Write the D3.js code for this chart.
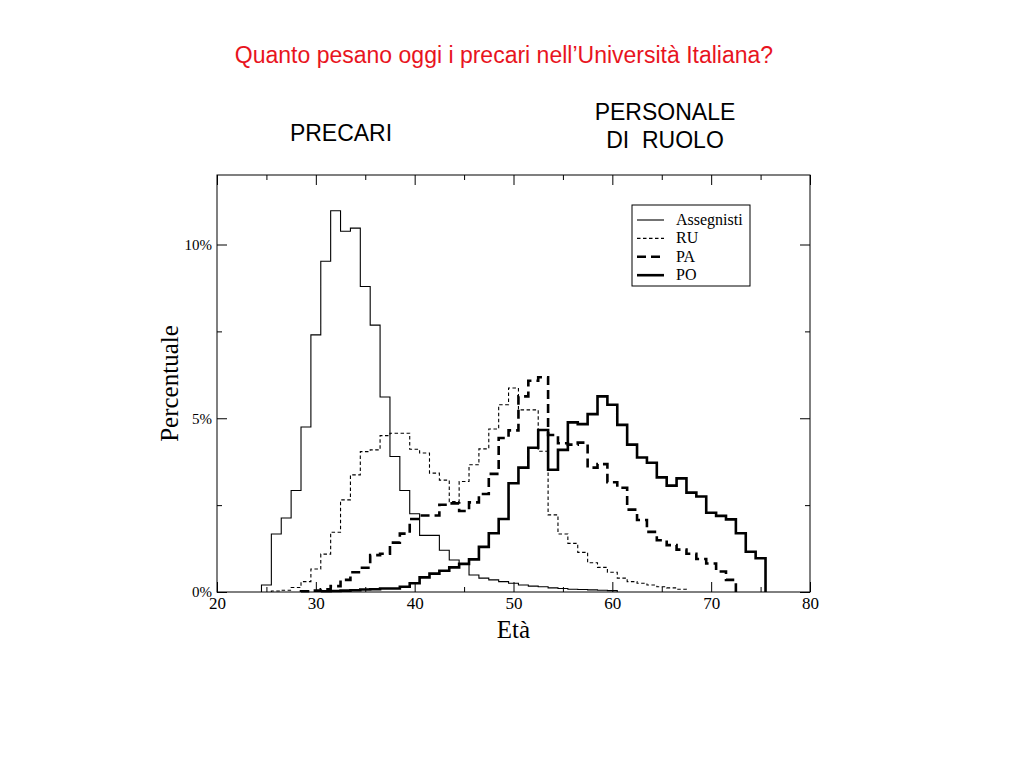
<!DOCTYPE html>
<html>
<head>
<meta charset="utf-8">
<script src="https://cdn.jsdelivr.net/npm/d3@7/dist/d3.min.js"></script>
<style>
  html, body { margin: 0; padding: 0; background: #fff; }
  svg { display: block; }
</style>
</head>
<body>
<svg id="chart" width="1023" height="767"></svg>
<script>
// ---- data (percent of each category per year of age, 1-year bins centred on the age) ----
const seriesNames = ["Assegnisti", "RU", "PA", "PO"];
const xTickLabels = [20, 30, 40, 50, 60, 70, 80];
const yTickLabels = [0, 5, 10];

const assegnistiFrom = 25;
const assegnisti = [0.20, 1.67, 2.13, 2.92, 4.75, 7.40, 9.52, 10.97, 10.38, 10.47, 8.79, 7.68, 5.61, 3.90,
  2.92, 2.25, 1.63, 1.63, 1.20, 0.92, 0.80, 0.49, 0.40, 0.35, 0.30, 0.25, 0.20, 0.17, 0.15, 0.12,
  0.10, 0.08, 0.07, 0.06, 0.05, 0.04];

const ruFrom = 26;
const ru = [0.03, 0.05, 0.13, 0.30, 0.66, 1.09, 1.72, 2.65, 3.37, 4.04, 4.09, 4.50, 4.57, 4.57, 4.11,
  4.00, 3.42, 3.22, 2.60, 3.18, 3.66, 4.12, 4.69, 5.39, 5.87, 5.24, 5.24, 4.05, 2.22, 1.67, 1.40,
  1.14, 0.84, 0.71, 0.57, 0.40, 0.30, 0.25, 0.20, 0.15, 0.12, 0.08];

const paFrom = 29;
const pa = [0.02, 0.04, 0.08, 0.17, 0.35, 0.57, 0.70, 1.06, 1.10, 1.42, 1.68, 2.10, 2.20, 2.20, 2.51,
  2.55, 2.33, 2.58, 2.82, 3.40, 4.43, 4.65, 5.63, 6.08, 6.18, 4.52, 4.28, 4.24, 4.30, 3.58, 3.68,
  3.16, 3.00, 2.37, 2.07, 1.73, 1.49, 1.35, 1.22, 1.10, 0.95, 0.82, 0.59, 0.35];

const poFrom = 31;
const po = [0.02, 0.03, 0.04, 0.05, 0.07, 0.08, 0.10, 0.10, 0.15, 0.25, 0.42, 0.53, 0.61, 0.71, 0.81,
  0.94, 1.30, 1.69, 2.10, 3.13, 3.58, 4.15, 4.66, 3.52, 4.09, 4.88, 4.83, 5.12, 5.63, 5.39, 4.81,
  4.24, 3.87, 3.72, 3.30, 3.06, 3.27, 2.86, 2.75, 2.28, 2.19, 2.09, 1.69, 1.16, 0.97];

// ---- layout ----
const svg = d3.select("#chart");
const L = 217, R = 810, T = 175, B = 592;
const x = d3.scaleLinear().domain([20, 80]).range([L, R]);
const y = d3.scaleLinear().domain([0, 12]).range([B, T]);

// header texts
svg.append("text").attr("x", 504).attr("y", 63).attr("text-anchor", "middle")
  .attr("font-family", "Liberation Sans, Arial, sans-serif").attr("font-size", 23)
  .attr("fill", "#e8141e").text("Quanto pesano oggi i precari nell\u2019Universit\u00e0 Italiana?");
svg.append("text").attr("x", 341).attr("y", 141).attr("text-anchor", "middle")
  .attr("font-family", "Liberation Sans, Arial, sans-serif").attr("font-size", 23)
  .attr("fill", "#000").text("PRECARI");
svg.append("text").attr("x", 665).attr("y", 120).attr("text-anchor", "middle")
  .attr("font-family", "Liberation Sans, Arial, sans-serif").attr("font-size", 23)
  .attr("fill", "#000").text("PERSONALE");
svg.append("text").attr("x", 665).attr("y", 148).attr("text-anchor", "middle")
  .attr("font-family", "Liberation Sans, Arial, sans-serif").attr("font-size", 23)
  .attr("fill", "#000").attr("xml:space", "preserve").style("white-space", "pre").text("DI  RUOLO");

// frame
svg.append("rect").attr("x", L).attr("y", T).attr("width", R - L).attr("height", B - T)
  .attr("fill", "none").attr("stroke", "#000").attr("stroke-width", 1);

const serif = "Liberation Serif, Times New Roman, serif";
const minorX = [25, 35, 45, 55, 65, 75];
const minorY = [2.5, 7.5];

function styleAxis(g) {
  g.select(".domain").remove();
  g.selectAll(".tick line").attr("stroke", "#000").attr("stroke-width", 1);
  g.selectAll(".tick text").attr("font-family", serif).attr("fill", "#000");
}

// bottom axis
svg.append("g").attr("transform", `translate(0,${B})`)
  .call(d3.axisBottom(x).tickValues(xTickLabels).tickSize(-10).tickPadding(5).tickFormat(d3.format("d")))
  .call(styleAxis)
  .call(g => g.selectAll(".tick text").attr("font-size", 17));
svg.append("g").attr("transform", `translate(0,${B})`)
  .call(d3.axisBottom(x).tickValues(minorX).tickSize(-5).tickFormat(""))
  .call(styleAxis);
// top axis
svg.append("g").attr("transform", `translate(0,${T})`)
  .call(d3.axisTop(x).tickValues(xTickLabels).tickSize(-10).tickFormat(""))
  .call(styleAxis);
svg.append("g").attr("transform", `translate(0,${T})`)
  .call(d3.axisTop(x).tickValues(minorX).tickSize(-5).tickFormat(""))
  .call(styleAxis);
// left axis
svg.append("g").attr("transform", `translate(${L},0)`)
  .call(d3.axisLeft(y).tickValues(yTickLabels).tickSize(-10).tickPadding(5).tickFormat(d => d + "%"))
  .call(styleAxis)
  .call(g => g.selectAll(".tick text").attr("font-size", 15));
svg.append("g").attr("transform", `translate(${L},0)`)
  .call(d3.axisLeft(y).tickValues(minorY).tickSize(-5).tickFormat(""))
  .call(styleAxis);
// right axis
svg.append("g").attr("transform", `translate(${R},0)`)
  .call(d3.axisRight(y).tickValues(yTickLabels).tickSize(-10).tickFormat(""))
  .call(styleAxis);
svg.append("g").attr("transform", `translate(${R},0)`)
  .call(d3.axisRight(y).tickValues(minorY).tickSize(-5).tickFormat(""))
  .call(styleAxis);

// axis titles
svg.append("text").attr("x", (L + R) / 2).attr("y", 638).attr("text-anchor", "middle")
  .attr("font-family", serif).attr("font-size", 25).attr("fill", "#000").text("Et\u00e0");
svg.append("text").attr("transform", `translate(178,${(T + B) / 2}) rotate(-90)`)
  .attr("text-anchor", "middle").attr("font-family", serif).attr("font-size", 25)
  .attr("fill", "#000").text("Percentuale");

// ---- step histograms ----
const styles = {
  Assegnisti: { width: 1.1, dash: null },
  RU: { width: 1.1, dash: "3.5,2.5" },
  PA: { width: 2.6, dash: "9,5" },
  PO: { width: 2.6, dash: null }
};
const seriesData = [
  { name: "Assegnisti", from: assegnistiFrom, values: assegnisti },
  { name: "RU", from: ruFrom, values: ru },
  { name: "PA", from: paFrom, values: pa },
  { name: "PO", from: poFrom, values: po }
];

const stepLine = d3.line().x(d => x(d[0])).y(d => y(d[1])).curve(d3.curveStepAfter);

seriesData.forEach(s => {
  const pts = [[s.from - 0.5, 0]];
  s.values.forEach((v, i) => pts.push([s.from + i - 0.5, v]));
  const last = s.from + s.values.length - 1;
  pts.push([last + 0.5, 0]);
  const st = styles[s.name];
  svg.append("path").attr("d", stepLine(pts))
    .attr("fill", "none").attr("stroke", "#000").attr("stroke-width", st.width)
    .attr("stroke-linejoin", "miter").attr("stroke-dasharray", st.dash);
});

// ---- legend ----
const lg = svg.append("g");
lg.append("rect").attr("x", 632).attr("y", 205).attr("width", 118).attr("height", 81)
  .attr("fill", "#fff").attr("stroke", "#000").attr("stroke-width", 1);
seriesNames.forEach((name, i) => {
  const yy = 220 + i * 18.4;
  const st = styles[name];
  lg.append("line").attr("x1", 637).attr("x2", 664).attr("y1", yy).attr("y2", yy)
    .attr("stroke", "#000").attr("stroke-width", st.width).attr("stroke-dasharray", st.dash);
  lg.append("text").attr("x", 676).attr("y", yy + 5).attr("font-family", serif)
    .attr("font-size", 16).attr("fill", "#000").text(name);
});
</script>
</body>
</html>
